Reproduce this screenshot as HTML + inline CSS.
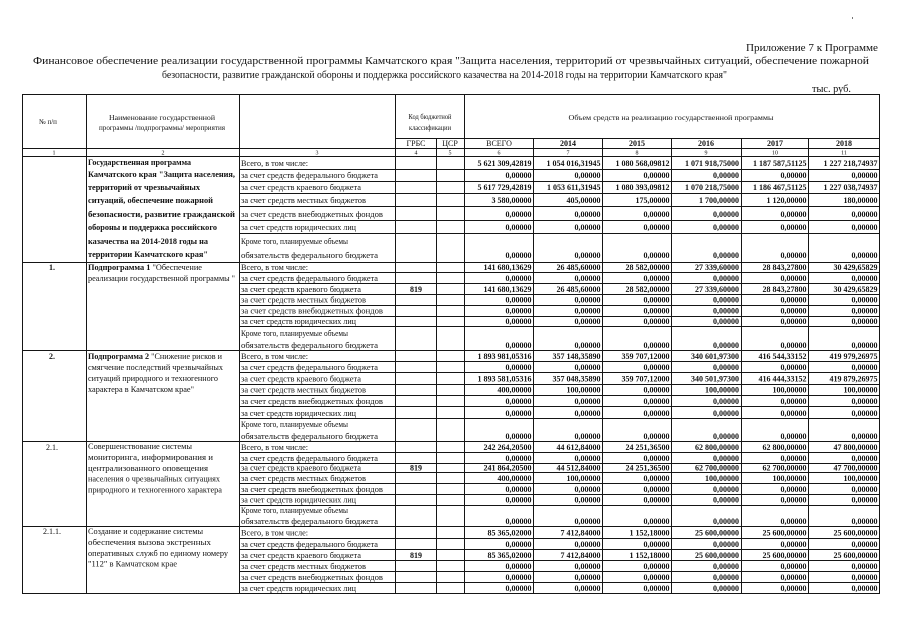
<!DOCTYPE html>
<html><head><meta charset="utf-8"><style>
html,body{margin:0;padding:0;background:#fff;}
svg{display:block;}
text{font-family:"Liberation Serif","Noto Serif CJK SC",serif;fill:#111;}
.n{font-size:8px;font-weight:bold;text-anchor:end;}
.l{font-size:8px;}
.b{font-size:8px;font-weight:bold;}
.h{font-size:7px;}
.c{text-anchor:middle;}
.t{font-size:10.5px;}
.k{font-size:6px;text-anchor:middle;}
</style></head><body>
<svg width="905" height="640" viewBox="0 0 905 640" xmlns="http://www.w3.org/2000/svg">
<rect width="905" height="640" fill="#fff"/>
<!-- titles -->
<text class="t" x="746" y="51" textLength="132" lengthAdjust="spacingAndGlyphs">Приложение 7 к Программе</text>
<text class="t" x="33" y="64" textLength="836" lengthAdjust="spacingAndGlyphs">Финансовое обеспечение реализации государственной программы Камчатского края "Защита населения, территорий от чрезвычайных ситуаций, обеспечение пожарной</text>
<text class="t" x="162" y="78" textLength="565" lengthAdjust="spacingAndGlyphs">безопасности, развитие гражданской обороны и поддержка российского казачества на 2014-2018 годы на территории Камчатского края"</text>
<text class="t" x="812" y="92" textLength="39" lengthAdjust="spacingAndGlyphs">тыс. руб.</text>
<!-- grid -->
<g stroke="#151515" stroke-width="1" shape-rendering="crispEdges" fill="none">
<path d="M22.5 94.5V593.5M86.5 94.5V593.5M239.5 94.5V593.5M395.5 94.5V593.5M436.5 138.5V593.5M464.5 94.5V593.5M533.5 138.5V593.5M602.5 138.5V593.5M671.5 138.5V593.5M741.5 138.5V593.5M808.5 138.5V593.5M879.5 94.5V593.5"/>
<path d="M22 94.5H880M395 138.5H880M22 148.5H880M22 156.5H880M22 262.5H880M22 350.5H880M22 441.5H880M22 526.5H880M22 593.5H880"/>
<path d="M239 169.5H880M239 181.5H880M239 193.5H880M239 206.5H880M239 220.5H880M239 233.5H880
M239 272.5H880M239 283.5H880M239 294.5H880M239 305.5H880M239 316.5H880M239 326.5H880
M239 361.5H880M239 372.5H880M239 384.5H880M239 395.5H880M239 406.5H880M239 418.5H880
M239 452.5H880M239 463.5H880M239 472.5H880M239 483.5H880M239 494.5H880M239 505.5H880
M239 538.5H880M239 549.5H880M239 560.5H880M239 571.5H880M239 582.5H880"/>
</g>
<!-- header -->
<text class="h c" x="48" y="124">№ п/п</text>
<text class="h c" x="162" y="120" textLength="106" lengthAdjust="spacingAndGlyphs">Наименование государственной</text>
<text class="h c" x="162" y="130" textLength="126" lengthAdjust="spacingAndGlyphs">программы /подпрограммы/ мероприятия</text>
<text class="h c" x="430" y="119" textLength="43" lengthAdjust="spacingAndGlyphs">Код бюджетной</text>
<text class="h c" x="430" y="130" textLength="42" lengthAdjust="spacingAndGlyphs">классификации</text>
<text class="h c" x="671" y="120" textLength="205" lengthAdjust="spacingAndGlyphs">Объем средств на реализацию государственной программы</text>
<text class="l c" x="416" y="146">ГРБС</text>
<text class="l c" x="450" y="146">ЦСР</text>
<text class="l c" x="499" y="146">ВСЕГО</text>
<text class="b c" x="568" y="146">2014</text>
<text class="b c" x="637" y="146">2015</text>
<text class="b c" x="706" y="146">2016</text>
<text class="b c" x="775" y="146">2017</text>
<text class="b c" x="844" y="146">2018</text>
<text class="k" x="54" y="154.5">1</text>
<text class="k" x="163" y="154.5">2</text>
<text class="k" x="317" y="154.5">3</text>
<text class="k" x="416" y="154.5">4</text>
<text class="k" x="450" y="154.5">5</text>
<text class="k" x="499" y="154.5">6</text>
<text class="k" x="568" y="154.5">7</text>
<text class="k" x="637" y="154.5">8</text>
<text class="k" x="706" y="154.5">9</text>
<text class="k" x="775" y="154.5">10</text>
<text class="k" x="844" y="154.5">11</text>

<!-- ===== Program block ===== -->
<text class="b" x="88" y="165" textLength="103" lengthAdjust="spacingAndGlyphs">Государственная программа</text>
<text class="b" x="88" y="177" textLength="147" lengthAdjust="spacingAndGlyphs">Камчатского края "Защита населения,</text>
<text class="b" x="88" y="190" textLength="112" lengthAdjust="spacingAndGlyphs">территорий от чрезвычайных</text>
<text class="b" x="88" y="203" textLength="125" lengthAdjust="spacingAndGlyphs">ситуаций, обеспечение пожарной</text>
<text class="b" x="88" y="217" textLength="147" lengthAdjust="spacingAndGlyphs">безопасности, развитие гражданской</text>
<text class="b" x="88" y="230" textLength="129" lengthAdjust="spacingAndGlyphs">обороны и поддержка российского</text>
<text class="b" x="88" y="244" textLength="120" lengthAdjust="spacingAndGlyphs">казачества на 2014-2018 годы на</text>
<text class="b" x="88" y="257" textLength="120" lengthAdjust="spacingAndGlyphs">территории Камчатского края"</text>

<text class="l" x="241" y="166" textLength="67" lengthAdjust="spacingAndGlyphs">Всего, в том числе:</text>
<text class="l" x="241" y="178" textLength="137" lengthAdjust="spacingAndGlyphs">за счет средств федерального бюджета</text>
<text class="l" x="241" y="190" textLength="120" lengthAdjust="spacingAndGlyphs">за счет средств краевого бюджета</text>
<text class="l" x="241" y="203" textLength="125" lengthAdjust="spacingAndGlyphs">за счет средств местных бюджетов</text>
<text class="l" x="241" y="217" textLength="142" lengthAdjust="spacingAndGlyphs">за счет средств внебюджетных фондов</text>
<text class="l" x="241" y="230" textLength="115" lengthAdjust="spacingAndGlyphs">за счет средств юридических лиц</text>
<text class="l" x="241" y="244" textLength="107" lengthAdjust="spacingAndGlyphs">Кроме того, планируемые объемы</text>
<text class="l" x="241" y="258" textLength="137" lengthAdjust="spacingAndGlyphs">обязательств федерального бюджета</text>

<text class="n" x="531.5" y="166">5 621 309,42819</text><text class="n" x="600.5" y="166">1 054 016,31945</text><text class="n" x="669.5" y="166">1 080 568,09812</text><text class="n" x="739" y="166">1 071 918,75000</text><text class="n" x="806.5" y="166">1 187 587,51125</text><text class="n" x="877.5" y="166">1 227 218,74937</text>
<text class="n" x="531.5" y="178">0,00000</text><text class="n" x="600.5" y="178">0,00000</text><text class="n" x="669.5" y="178">0,00000</text><text class="n" x="739" y="178">0,00000</text><text class="n" x="806.5" y="178">0,00000</text><text class="n" x="877.5" y="178">0,00000</text>
<text class="n" x="531.5" y="190">5 617 729,42819</text><text class="n" x="600.5" y="190">1 053 611,31945</text><text class="n" x="669.5" y="190">1 080 393,09812</text><text class="n" x="739" y="190">1 070 218,75000</text><text class="n" x="806.5" y="190">1 186 467,51125</text><text class="n" x="877.5" y="190">1 227 038,74937</text>
<text class="n" x="531.5" y="203">3 580,00000</text><text class="n" x="600.5" y="203">405,00000</text><text class="n" x="669.5" y="203">175,00000</text><text class="n" x="739" y="203">1 700,00000</text><text class="n" x="806.5" y="203">1 120,00000</text><text class="n" x="877.5" y="203">180,00000</text>
<text class="n" x="531.5" y="217">0,00000</text><text class="n" x="600.5" y="217">0,00000</text><text class="n" x="669.5" y="217">0,00000</text><text class="n" x="739" y="217">0,00000</text><text class="n" x="806.5" y="217">0,00000</text><text class="n" x="877.5" y="217">0,00000</text>
<text class="n" x="531.5" y="230">0,00000</text><text class="n" x="600.5" y="230">0,00000</text><text class="n" x="669.5" y="230">0,00000</text><text class="n" x="739" y="230">0,00000</text><text class="n" x="806.5" y="230">0,00000</text><text class="n" x="877.5" y="230">0,00000</text>
<text class="n" x="531.5" y="258">0,00000</text><text class="n" x="600.5" y="258">0,00000</text><text class="n" x="669.5" y="258">0,00000</text><text class="n" x="739" y="258">0,00000</text><text class="n" x="806.5" y="258">0,00000</text><text class="n" x="877.5" y="258">0,00000</text>

<!-- ===== Sub 1 ===== -->
<text class="b c" x="52" y="270">1.</text>
<text class="l" x="88" y="270" textLength="114" lengthAdjust="spacingAndGlyphs"><tspan font-weight="bold">Подпрограмма 1</tspan> "Обеспечение</text>
<text class="l" x="88" y="281" textLength="147" lengthAdjust="spacingAndGlyphs">реализации государственной программы "</text>
<text class="l" x="241" y="270" textLength="67" lengthAdjust="spacingAndGlyphs">Всего, в том числе:</text>
<text class="l" x="241" y="281" textLength="137" lengthAdjust="spacingAndGlyphs">за счет средств федерального бюджета</text>
<text class="l" x="241" y="292" textLength="120" lengthAdjust="spacingAndGlyphs">за счет средств краевого бюджета</text>
<text class="l" x="241" y="302.5" textLength="125" lengthAdjust="spacingAndGlyphs">за счет средств местных бюджетов</text>
<text class="l" x="241" y="313.5" textLength="142" lengthAdjust="spacingAndGlyphs">за счет средств внебюджетных фондов</text>
<text class="l" x="241" y="324" textLength="115" lengthAdjust="spacingAndGlyphs">за счет средств юридических лиц</text>
<text class="l" x="241" y="336" textLength="107" lengthAdjust="spacingAndGlyphs">Кроме того, планируемые объемы</text>
<text class="l" x="241" y="348" textLength="137" lengthAdjust="spacingAndGlyphs">обязательств федерального бюджета</text>
<text class="b c" x="416" y="292">819</text>
<text class="n" x="531.5" y="270">141 680,13629</text><text class="n" x="600.5" y="270">26 485,60000</text><text class="n" x="669.5" y="270">28 582,00000</text><text class="n" x="739" y="270">27 339,60000</text><text class="n" x="806.5" y="270">28 843,27800</text><text class="n" x="877.5" y="270">30 429,65829</text>
<text class="n" x="531.5" y="281">0,00000</text><text class="n" x="600.5" y="281">0,00000</text><text class="n" x="669.5" y="281">0,00000</text><text class="n" x="739" y="281">0,00000</text><text class="n" x="806.5" y="281">0,00000</text><text class="n" x="877.5" y="281">0,00000</text>
<text class="n" x="531.5" y="292">141 680,13629</text><text class="n" x="600.5" y="292">26 485,60000</text><text class="n" x="669.5" y="292">28 582,00000</text><text class="n" x="739" y="292">27 339,60000</text><text class="n" x="806.5" y="292">28 843,27800</text><text class="n" x="877.5" y="292">30 429,65829</text>
<text class="n" x="531.5" y="302.5">0,00000</text><text class="n" x="600.5" y="302.5">0,00000</text><text class="n" x="669.5" y="302.5">0,00000</text><text class="n" x="739" y="302.5">0,00000</text><text class="n" x="806.5" y="302.5">0,00000</text><text class="n" x="877.5" y="302.5">0,00000</text>
<text class="n" x="531.5" y="313.5">0,00000</text><text class="n" x="600.5" y="313.5">0,00000</text><text class="n" x="669.5" y="313.5">0,00000</text><text class="n" x="739" y="313.5">0,00000</text><text class="n" x="806.5" y="313.5">0,00000</text><text class="n" x="877.5" y="313.5">0,00000</text>
<text class="n" x="531.5" y="324">0,00000</text><text class="n" x="600.5" y="324">0,00000</text><text class="n" x="669.5" y="324">0,00000</text><text class="n" x="739" y="324">0,00000</text><text class="n" x="806.5" y="324">0,00000</text><text class="n" x="877.5" y="324">0,00000</text>
<text class="n" x="531.5" y="348">0,00000</text><text class="n" x="600.5" y="348">0,00000</text><text class="n" x="669.5" y="348">0,00000</text><text class="n" x="739" y="348">0,00000</text><text class="n" x="806.5" y="348">0,00000</text><text class="n" x="877.5" y="348">0,00000</text>

<!-- ===== Sub 2 ===== -->
<text class="b c" x="52" y="359">2.</text>
<text class="l" x="88" y="359" textLength="134" lengthAdjust="spacingAndGlyphs"><tspan font-weight="bold">Подпрограмма 2</tspan> "Снижение рисков и</text>
<text class="l" x="88" y="370" textLength="135" lengthAdjust="spacingAndGlyphs">смягчение последствий чрезвычайных</text>
<text class="l" x="88" y="381" textLength="130" lengthAdjust="spacingAndGlyphs">ситуаций природного и техногенного</text>
<text class="l" x="88" y="392" textLength="106" lengthAdjust="spacingAndGlyphs">характера в Камчатском крае"</text>
<text class="l" x="241" y="359" textLength="67" lengthAdjust="spacingAndGlyphs">Всего, в том числе:</text>
<text class="l" x="241" y="370" textLength="137" lengthAdjust="spacingAndGlyphs">за счет средств федерального бюджета</text>
<text class="l" x="241" y="381.5" textLength="120" lengthAdjust="spacingAndGlyphs">за счет средств краевого бюджета</text>
<text class="l" x="241" y="392.5" textLength="125" lengthAdjust="spacingAndGlyphs">за счет средств местных бюджетов</text>
<text class="l" x="241" y="404" textLength="142" lengthAdjust="spacingAndGlyphs">за счет средств внебюджетных фондов</text>
<text class="l" x="241" y="416" textLength="115" lengthAdjust="spacingAndGlyphs">за счет средств юридических лиц</text>
<text class="l" x="241" y="427" textLength="107" lengthAdjust="spacingAndGlyphs">Кроме того, планируемые объемы</text>
<text class="l" x="241" y="439" textLength="137" lengthAdjust="spacingAndGlyphs">обязательств федерального бюджета</text>
<text class="n" x="531.5" y="359">1 893 981,05316</text><text class="n" x="600.5" y="359">357 148,35890</text><text class="n" x="669.5" y="359">359 707,12000</text><text class="n" x="739" y="359">340 601,97300</text><text class="n" x="806.5" y="359">416 544,33152</text><text class="n" x="877.5" y="359">419 979,26975</text>
<text class="n" x="531.5" y="370">0,00000</text><text class="n" x="600.5" y="370">0,00000</text><text class="n" x="669.5" y="370">0,00000</text><text class="n" x="739" y="370">0,00000</text><text class="n" x="806.5" y="370">0,00000</text><text class="n" x="877.5" y="370">0,00000</text>
<text class="n" x="531.5" y="381.5">1 893 581,05316</text><text class="n" x="600.5" y="381.5">357 048,35890</text><text class="n" x="669.5" y="381.5">359 707,12000</text><text class="n" x="739" y="381.5">340 501,97300</text><text class="n" x="806.5" y="381.5">416 444,33152</text><text class="n" x="877.5" y="381.5">419 879,26975</text>
<text class="n" x="531.5" y="392.5">400,00000</text><text class="n" x="600.5" y="392.5">100,00000</text><text class="n" x="669.5" y="392.5">0,00000</text><text class="n" x="739" y="392.5">100,00000</text><text class="n" x="806.5" y="392.5">100,00000</text><text class="n" x="877.5" y="392.5">100,00000</text>
<text class="n" x="531.5" y="404">0,00000</text><text class="n" x="600.5" y="404">0,00000</text><text class="n" x="669.5" y="404">0,00000</text><text class="n" x="739" y="404">0,00000</text><text class="n" x="806.5" y="404">0,00000</text><text class="n" x="877.5" y="404">0,00000</text>
<text class="n" x="531.5" y="416">0,00000</text><text class="n" x="600.5" y="416">0,00000</text><text class="n" x="669.5" y="416">0,00000</text><text class="n" x="739" y="416">0,00000</text><text class="n" x="806.5" y="416">0,00000</text><text class="n" x="877.5" y="416">0,00000</text>
<text class="n" x="531.5" y="439">0,00000</text><text class="n" x="600.5" y="439">0,00000</text><text class="n" x="669.5" y="439">0,00000</text><text class="n" x="739" y="439">0,00000</text><text class="n" x="806.5" y="439">0,00000</text><text class="n" x="877.5" y="439">0,00000</text>

<!-- ===== 2.1 ===== -->
<text class="l c" x="52" y="450">2.1.</text>
<text class="l" x="88" y="449" textLength="104" lengthAdjust="spacingAndGlyphs">Совершенствование системы</text>
<text class="l" x="88" y="460" textLength="125" lengthAdjust="spacingAndGlyphs">мониторинга, информирования и</text>
<text class="l" x="88" y="471" textLength="120" lengthAdjust="spacingAndGlyphs">централизованного оповещения</text>
<text class="l" x="88" y="481.5" textLength="132" lengthAdjust="spacingAndGlyphs">населения о чрезвычайных ситуациях</text>
<text class="l" x="88" y="492.5" textLength="134" lengthAdjust="spacingAndGlyphs">природного и техногенного характера</text>
<text class="l" x="241" y="450" textLength="67" lengthAdjust="spacingAndGlyphs">Всего, в том числе:</text>
<text class="l" x="241" y="461" textLength="137" lengthAdjust="spacingAndGlyphs">за счет средств федерального бюджета</text>
<text class="l" x="241" y="470.5" textLength="120" lengthAdjust="spacingAndGlyphs">за счет средств краевого бюджета</text>
<text class="l" x="241" y="481" textLength="125" lengthAdjust="spacingAndGlyphs">за счет средств местных бюджетов</text>
<text class="l" x="241" y="492" textLength="142" lengthAdjust="spacingAndGlyphs">за счет средств внебюджетных фондов</text>
<text class="l" x="241" y="502.5" textLength="115" lengthAdjust="spacingAndGlyphs">за счет средств юридических лиц</text>
<text class="l" x="241" y="513" textLength="107" lengthAdjust="spacingAndGlyphs">Кроме того, планируемые объемы</text>
<text class="l" x="241" y="524" textLength="137" lengthAdjust="spacingAndGlyphs">обязательств федерального бюджета</text>
<text class="b c" x="416" y="470.5">819</text>
<text class="n" x="531.5" y="450">242 264,20500</text><text class="n" x="600.5" y="450">44 612,84000</text><text class="n" x="669.5" y="450">24 251,36500</text><text class="n" x="739" y="450">62 800,00000</text><text class="n" x="806.5" y="450">62 800,00000</text><text class="n" x="877.5" y="450">47 800,00000</text>
<text class="n" x="531.5" y="461">0,00000</text><text class="n" x="600.5" y="461">0,00000</text><text class="n" x="669.5" y="461">0,00000</text><text class="n" x="739" y="461">0,00000</text><text class="n" x="806.5" y="461">0,00000</text><text class="n" x="877.5" y="461">0,00000</text>
<text class="n" x="531.5" y="470.5">241 864,20500</text><text class="n" x="600.5" y="470.5">44 512,84000</text><text class="n" x="669.5" y="470.5">24 251,36500</text><text class="n" x="739" y="470.5">62 700,00000</text><text class="n" x="806.5" y="470.5">62 700,00000</text><text class="n" x="877.5" y="470.5">47 700,00000</text>
<text class="n" x="531.5" y="481">400,00000</text><text class="n" x="600.5" y="481">100,00000</text><text class="n" x="669.5" y="481">0,00000</text><text class="n" x="739" y="481">100,00000</text><text class="n" x="806.5" y="481">100,00000</text><text class="n" x="877.5" y="481">100,00000</text>
<text class="n" x="531.5" y="492">0,00000</text><text class="n" x="600.5" y="492">0,00000</text><text class="n" x="669.5" y="492">0,00000</text><text class="n" x="739" y="492">0,00000</text><text class="n" x="806.5" y="492">0,00000</text><text class="n" x="877.5" y="492">0,00000</text>
<text class="n" x="531.5" y="502.5">0,00000</text><text class="n" x="600.5" y="502.5">0,00000</text><text class="n" x="669.5" y="502.5">0,00000</text><text class="n" x="739" y="502.5">0,00000</text><text class="n" x="806.5" y="502.5">0,00000</text><text class="n" x="877.5" y="502.5">0,00000</text>
<text class="n" x="531.5" y="524">0,00000</text><text class="n" x="600.5" y="524">0,00000</text><text class="n" x="669.5" y="524">0,00000</text><text class="n" x="739" y="524">0,00000</text><text class="n" x="806.5" y="524">0,00000</text><text class="n" x="877.5" y="524">0,00000</text>

<!-- ===== 2.1.1 ===== -->
<text class="l c" x="52" y="534">2.1.1.</text>
<text class="l" x="88" y="534" textLength="115" lengthAdjust="spacingAndGlyphs">Создание и содержание системы</text>
<text class="l" x="88" y="545" textLength="123" lengthAdjust="spacingAndGlyphs">обеспечения вызова экстренных</text>
<text class="l" x="88" y="556" textLength="140" lengthAdjust="spacingAndGlyphs">оперативных служб по единому номеру</text>
<text class="l" x="88" y="566.5" textLength="89" lengthAdjust="spacingAndGlyphs">"112" в Камчатском крае</text>
<text class="l" x="241" y="535.5" textLength="67" lengthAdjust="spacingAndGlyphs">Всего, в том числе:</text>
<text class="l" x="241" y="547" textLength="137" lengthAdjust="spacingAndGlyphs">за счет средств федерального бюджета</text>
<text class="l" x="241" y="558" textLength="120" lengthAdjust="spacingAndGlyphs">за счет средств краевого бюджета</text>
<text class="l" x="241" y="569" textLength="125" lengthAdjust="spacingAndGlyphs">за счет средств местных бюджетов</text>
<text class="l" x="241" y="580" textLength="142" lengthAdjust="spacingAndGlyphs">за счет средств внебюджетных фондов</text>
<text class="l" x="241" y="591" textLength="115" lengthAdjust="spacingAndGlyphs">за счет средств юридических лиц</text>
<text class="b c" x="416" y="558">819</text>
<text class="n" x="531.5" y="535.5">85 365,02000</text><text class="n" x="600.5" y="535.5">7 412,84000</text><text class="n" x="669.5" y="535.5">1 152,18000</text><text class="n" x="739" y="535.5">25 600,00000</text><text class="n" x="806.5" y="535.5">25 600,00000</text><text class="n" x="877.5" y="535.5">25 600,00000</text>
<text class="n" x="531.5" y="547">0,00000</text><text class="n" x="600.5" y="547">0,00000</text><text class="n" x="669.5" y="547">0,00000</text><text class="n" x="739" y="547">0,00000</text><text class="n" x="806.5" y="547">0,00000</text><text class="n" x="877.5" y="547">0,00000</text>
<text class="n" x="531.5" y="558">85 365,02000</text><text class="n" x="600.5" y="558">7 412,84000</text><text class="n" x="669.5" y="558">1 152,18000</text><text class="n" x="739" y="558">25 600,00000</text><text class="n" x="806.5" y="558">25 600,00000</text><text class="n" x="877.5" y="558">25 600,00000</text>
<text class="n" x="531.5" y="569">0,00000</text><text class="n" x="600.5" y="569">0,00000</text><text class="n" x="669.5" y="569">0,00000</text><text class="n" x="739" y="569">0,00000</text><text class="n" x="806.5" y="569">0,00000</text><text class="n" x="877.5" y="569">0,00000</text>
<text class="n" x="531.5" y="580">0,00000</text><text class="n" x="600.5" y="580">0,00000</text><text class="n" x="669.5" y="580">0,00000</text><text class="n" x="739" y="580">0,00000</text><text class="n" x="806.5" y="580">0,00000</text><text class="n" x="877.5" y="580">0,00000</text>
<text class="n" x="531.5" y="591">0,00000</text><text class="n" x="600.5" y="591">0,00000</text><text class="n" x="669.5" y="591">0,00000</text><text class="n" x="739" y="591">0,00000</text><text class="n" x="806.5" y="591">0,00000</text><text class="n" x="877.5" y="591">0,00000</text>
<rect x="852" y="17" width="1" height="2" fill="#777"/>
</svg>
</body></html>
